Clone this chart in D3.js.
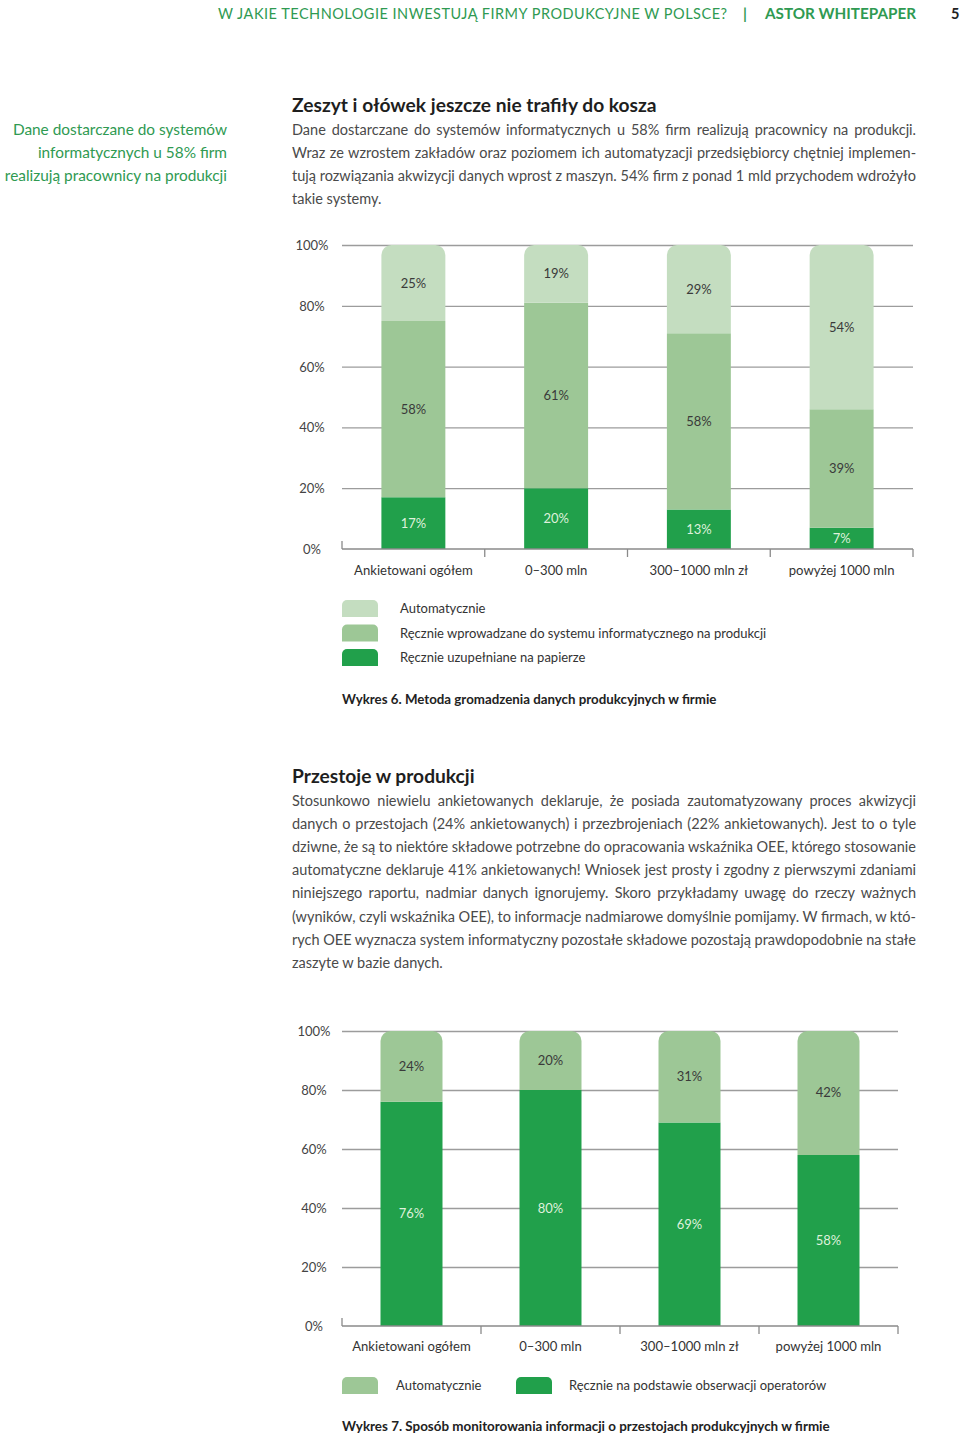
<!DOCTYPE html>
<meta charset="utf-8">

<!-- Load d3.js -->
<script src="https://d3js.org/d3.v7.min.js"></script>

<style>
  body { margin: 0; background: #fff; }
  svg text { font-family: Lato, "Open Sans", sans-serif; }
</style>

<div id="page"></div>

<script>

  // categories shared by both charts
  const categories = ["Ankietowani ogółem", "0–300 mln", "300–1000 mln zł", "powyżej 1000 mln"];
  const yTicks = [0, 20, 40, 60, 80, 100];

  // Wykres 6 (bottom segment first)
  const paperShare = [17, 20, 13, 7];
  const manualSystemShare = [58, 61, 58, 39];
  const automaticShare6 = [25, 19, 29, 54];
  const legend6 = ["Automatycznie", "Ręcznie wprowadzane do systemu informatycznego na produkcji", "Ręcznie uzupełniane na papierze"];

  // Wykres 7 (bottom segment first)
  const operatorShare = [76, 80, 69, 58];
  const automaticShare7 = [24, 20, 31, 42];
  const legend7 = ["Automatycznie", "Ręcznie na podstawie obserwacji operatorów"];

  // page texts
  const headerTitle = "W JAKIE TECHNOLOGIE INWESTUJĄ FIRMY PRODUKCYJNE W POLSCE?";
  const headerBrand = "ASTOR WHITEPAPER";
  const pageNumber = "5";
  const sideNote = ["Dane dostarczane do systemów", "informatycznych u 58% firm", "realizują pracownicy na produkcji"];
  const heading1 = "Zeszyt i ołówek jeszcze nie trafiły do kosza";
  const para1 = [
    "Dane dostarczane do systemów informatycznych u 58% firm realizują pracownicy na produkcji.",
    "Wraz ze wzrostem zakładów oraz poziomem ich automatyzacji przedsiębiorcy chętniej implemen-",
    "tują rozwiązania akwizycji danych wprost z maszyn. 54% firm z ponad 1 mld przychodem wdrożyło",
    "takie systemy."
  ];
  const caption6 = "Wykres 6. Metoda gromadzenia danych produkcyjnych w firmie";
  const heading2 = "Przestoje w produkcji";
  const para2 = [
    "Stosunkowo niewielu ankietowanych deklaruje, że posiada zautomatyzowany proces akwizycji",
    "danych o przestojach (24% ankietowanych) i przezbrojeniach (22% ankietowanych). Jest to o tyle",
    "dziwne, że są to niektóre składowe potrzebne do opracowania wskaźnika OEE, którego stosowanie",
    "automatyczne deklaruje 41% ankietowanych! Wniosek jest prosty i zgodny z pierwszymi zdaniami",
    "niniejszego raportu, nadmiar danych ignorujemy. Skoro przykładamy uwagę do rzeczy ważnych",
    "(wyników, czyli wskaźnika OEE), to informacje nadmiarowe domyślnie pomijamy. W firmach, w któ-",
    "rych OEE wyznacza system informatyczny pozostałe składowe pozostają prawdopodobnie na stałe",
    "zaszyte w bazie danych."
  ];
  const caption7 = "Wykres 7. Sposób monitorowania informacji o przestojach produkcyjnych w firmie";

  const green = "#2f9a52";
  const cLight = "#c4ddc0";
  const cMid = "#9dc796";
  const cDark = "#21a04b";

  const svg = d3.select("#page")
    .append("svg")
    .attr("width", 960)
    .attr("height", 1434);

  // ---------- header ----------
  svg.append("text")
    .attr("x", 218).attr("y", 19)
    .attr("font-size", 14.5).attr("fill", green)
    .attr("textLength", 509).attr("lengthAdjust", "spacing")
    .text(headerTitle);
  svg.append("text")
    .attr("x", 745).attr("y", 19).attr("text-anchor", "middle")
    .attr("font-size", 15).attr("font-weight", "bold").attr("fill", green)
    .text("|");
  svg.append("text")
    .attr("x", 765).attr("y", 19)
    .attr("font-size", 14.5).attr("font-weight", "bold").attr("fill", green)
    .attr("textLength", 151).attr("lengthAdjust", "spacingAndGlyphs")
    .text(headerBrand);
  svg.append("text")
    .attr("x", 951).attr("y", 19)
    .attr("font-size", 14.5).attr("font-weight", "bold").attr("fill", "#222")
    .text(pageNumber);

  // side note
  svg.selectAll(".side")
    .data(sideNote)
    .join("text")
    .attr("class", "side")
    .attr("x", 227).attr("y", (d, i) => 135 + i * 23)
    .attr("text-anchor", "end")
    .attr("font-size", 15.4).attr("fill", green)
    .text(d => d);

  // paragraph: every line but the last is stretched to the column width
  function paragraph(head, lines, headY, firstY) {
    svg.append("text")
      .attr("x", 292).attr("y", headY)
      .attr("font-size", 19.2).attr("font-weight", "bold").attr("fill", "#1e1e1e")
      .text(head);
    svg.selectAll(null)
      .data(lines)
      .join("text")
      .attr("x", 292).attr("y", (d, i) => firstY + i * 23.1)
      .attr("font-size", 14.5).attr("fill", "#4a4a4a")
      .text(d => d)
      .each(function (d, i) {
        if (i === lines.length - 1) return;
        const w = this.getComputedTextLength();
        const spaces = d.split(" ").length - 1;
        this.setAttribute("word-spacing", ((624 - w) / spaces).toFixed(2));
      });
  }
  paragraph(heading1, para1, 112, 135);
  paragraph(heading2, para2, 783, 806);

  // ---------- stacked charts ----------
  function topRounded(x, y, w, h, r) {
    return `M${x},${y + h}V${y + r}A${r},${r} 0 0 1 ${x + r},${y}H${x + w - r}A${r},${r} 0 0 1 ${x + w},${y + r}V${y + h}Z`;
  }

  function drawChart(cfg) {
    const g = svg.append("g");

    const x = d3.scaleBand()
      .domain(categories)
      .range([cfg.left, cfg.right])
      .paddingInner(cfg.pad)
      .paddingOuter(cfg.pad / 2);

    const y = d3.scaleLinear()
      .domain([0, 100])
      .range([cfg.bottom, cfg.top]);

    // gridlines with the percent labels
    const grid = g.append("g")
      .attr("transform", `translate(${cfg.left},0)`)
      .call(d3.axisLeft(y)
        .tickValues(yTicks)
        .tickSize(-(cfg.right - cfg.left))
        .tickFormat(d => d + "%"));
    grid.select(".domain").remove();
    grid.selectAll(".tick line")
      .attr("stroke", "#9c9c9c").attr("stroke-width", 1.3)
      .attr("display", d => d === 0 ? "none" : null);
    grid.selectAll(".tick text")
      .attr("x", cfg.labelX - cfg.left)
      .attr("dy", "0.35em")
      .attr("text-anchor", "middle")
      .attr("font-size", 13).attr("fill", "#444")
      .style("font-family", "Lato, 'Open Sans', sans-serif");

    // stacked bars
    const rows = categories.map((c, i) => {
      const r = { cat: c };
      cfg.layers.forEach(l => { r[l.key] = l.values[i]; });
      return r;
    });
    const series = d3.stack().keys(cfg.layers.map(l => l.key))(rows);

    series.forEach((s, si) => {
      const layer = cfg.layers[si];
      const isTop = si === series.length - 1;
      const bars = g.append("g");
      bars.selectAll("path")
        .data(s)
        .join("path")
        .attr("fill", layer.color)
        .attr("d", d => {
          const x0 = x(d.data.cat), w = x.bandwidth();
          const y1 = y(d[1]), h = y(d[0]) - y(d[1]);
          return isTop ? topRounded(x0, y1, w, h, 10) : `M${x0},${y1}h${w}v${h}h${-w}Z`;
        });
      bars.selectAll("text")
        .data(s)
        .join("text")
        .attr("x", d => x(d.data.cat) + x.bandwidth() / 2)
        .attr("y", d => y((d[0] + d[1]) / 2) + 4.5)
        .attr("text-anchor", "middle")
        .attr("font-size", 13).attr("fill", layer.textColor)
        .text(d => (d[1] - d[0]) + "%");
    });

    // bottom axis line and category ticks
    const y0 = y(0);
    g.append("line")
      .attr("x1", cfg.left).attr("x2", cfg.right)
      .attr("y1", y0).attr("y2", y0)
      .attr("stroke", "#8a8a8a").attr("stroke-width", 1.3);
    g.append("line")
      .attr("x1", cfg.left).attr("x2", cfg.left)
      .attr("y1", y0 - 8).attr("y2", y0)
      .attr("stroke", "#8a8a8a").attr("stroke-width", 1.3);
    const bounds = categories.map(c => x(c) - x.step() * cfg.pad / 2 + x.step());
    g.selectAll(".cut")
      .data(bounds)
      .join("line")
      .attr("x1", d => d).attr("x2", d => d)
      .attr("y1", y0).attr("y2", y0 + 8)
      .attr("stroke", "#8a8a8a").attr("stroke-width", 1.3);

    const xAxis = g.append("g")
      .attr("transform", `translate(0,${y0})`)
      .call(d3.axisBottom(x).tickSize(0));
    xAxis.select(".domain").remove();
    xAxis.selectAll("text")
      .attr("y", cfg.catOffset).attr("dy", 0)
      .attr("font-size", 13.1).attr("fill", "#333")
      .style("font-family", "Lato, 'Open Sans', sans-serif");

    return g;
  }

  function swatch(x, y, color) {
    svg.append("path")
      .attr("fill", color)
      .attr("d", topRounded(x, y, 36, 17, 5));
  }

  // Wykres 6
  drawChart({
    left: 342, right: 913, top: 245, bottom: 549, pad: 0.552, labelX: 312, catOffset: 26,
    layers: [
      { key: "paper", values: paperShare, color: cDark, textColor: "#dff1dc" },
      { key: "manual", values: manualSystemShare, color: cMid, textColor: "#3a3a3a" },
      { key: "auto", values: automaticShare6, color: cLight, textColor: "#3a3a3a" }
    ]
  });
  [cLight, cMid, cDark].forEach((c, i) => {
    swatch(342, 600 + i * 24.5, c);
    svg.append("text")
      .attr("x", 400).attr("y", 613 + i * 24.5)
      .attr("font-size", 13).attr("fill", "#333")
      .text(legend6[i]);
  });
  svg.append("text")
    .attr("x", 342).attr("y", 704)
    .attr("font-size", 13.3).attr("font-weight", "bold").attr("fill", "#222")
    .text(caption6);

  // Wykres 7
  drawChart({
    left: 342, right: 898, top: 1031, bottom: 1326, pad: 0.554, labelX: 314, catOffset: 25,
    layers: [
      { key: "operator", values: operatorShare, color: cDark, textColor: "#dff1dc" },
      { key: "auto", values: automaticShare7, color: cMid, textColor: "#3a3a3a" }
    ]
  });
  swatch(342, 1377, cMid);
  svg.append("text")
    .attr("x", 396).attr("y", 1390)
    .attr("font-size", 13).attr("fill", "#333")
    .text(legend7[0]);
  swatch(516, 1377, cDark);
  svg.append("text")
    .attr("x", 569).attr("y", 1390)
    .attr("font-size", 13).attr("fill", "#333")
    .text(legend7[1]);
  svg.append("text")
    .attr("x", 342).attr("y", 1431)
    .attr("font-size", 13.4).attr("font-weight", "bold").attr("fill", "#222")
    .text(caption7);

</script>
